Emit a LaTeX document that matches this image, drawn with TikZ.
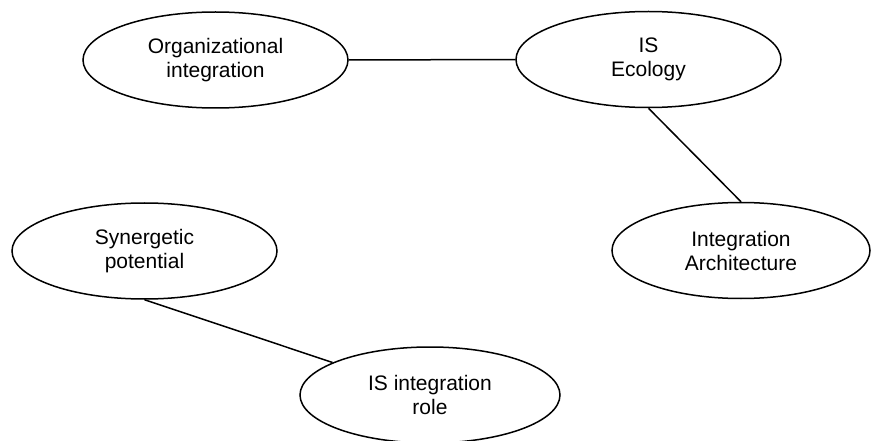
\documentclass[tikz,border=0pt]{standalone}
\usepackage{fontspec}
\setmainfont{Liberation Sans}
\usetikzlibrary{shapes.geometric}

\begin{document}
\begin{tikzpicture}[x=1pt,y=-1pt]
		\tikzset{topic/.style = {shape=ellipse,draw, line width=1.5pt, inner sep=0pt, minimum width=265pt, minimum height=96pt, align=center, font=\fontsize{21}{24}\selectfont}}

		\useasboundingbox (0,0) rectangle (871,441);

		\node[topic] (org) at (215.5,60) {Organizational\\integration};
		\node[topic] (eco) at (648.5,59.5) {IS\\Ecology};
		\node[topic, minimum width=258pt] (arch) at (741,250.5) {Integration\\Architecture};
		\node[topic] (syn) at (144.5,251) {Synergetic\\potential};
		\node[topic, minimum width=260pt] (role) at (430,395) {IS integration\\role};



		\draw[line width=1.5pt] (org)--(eco);
		\draw[line width=1.5pt] (eco.south)--(arch.north);
		\draw[line width=1.5pt] (syn.south)--(role);

	\end{tikzpicture}
\end{document}
